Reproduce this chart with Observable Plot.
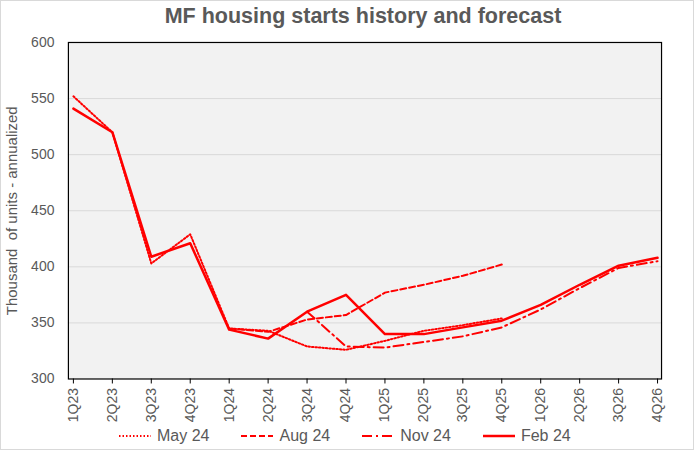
<!DOCTYPE html>
<html>
<head>
<meta charset="utf-8">
<script src="https://cdn.jsdelivr.net/npm/d3@7"></script>
<script src="https://cdn.jsdelivr.net/npm/@observablehq/plot@0.6"></script>
<style>
  html, body { margin: 0; padding: 0; background: #fff; }
  #wrap { position: relative; width: 694px; height: 450px; box-sizing: border-box; border: 1px solid #d9d9d9; font-family: "Liberation Sans", Arial, sans-serif; overflow: hidden; }
  #title { position: absolute; left: 0; top: 3px; width: 724px; text-align: center; font-weight: bold; font-size: 21.5px; color: #595959; }
  #chart { position: absolute; left: -1px; top: 29px; }
  #legend { position: absolute; left: 117px; top: 426px; display: flex; justify-content: flex-start; gap: 31px; font-size: 16px; color: #595959; }
  .item { display: flex; align-items: center; gap: 5px; }
</style>
</head>
<body>
<div id="wrap">
  <div id="title">MF housing starts history and forecast</div>
  <div id="chart"></div>
  <div id="legend"></div>
</div>
<script>
const quarters = ["1Q23","2Q23","3Q23","4Q23","1Q24","2Q24","3Q24","4Q24","1Q25","2Q25","3Q25","4Q25","1Q26","2Q26","3Q26","4Q26"];
const yTicks = [300, 350, 400, 450, 500, 550, 600];
const yLabel = "Thousand  of units - annualized";

// May 24 forecast: 1Q23 .. 4Q25
const may24 = [552, 520, 403, 429, 345, 343, 329, 326, 334, 343, 348, 354];
// Aug 24 forecast: 1Q24 .. 4Q25
const aug24Start = "1Q24";
const aug24 = [345, 342, 353, 357, 377, 384, 392, 402];
// Nov 24 forecast: 3Q24 .. 4Q26
const nov24Start = "3Q24";
const nov24 = [360, 329, 328, 333, 338, 346, 362, 381, 399, 405];
// Feb 24 forecast: 1Q23 .. 4Q26
const feb24 = [541, 520, 409, 421, 344, 336, 360, 375, 340, 340, 346, 352, 366, 384, 401, 408];

const seriesNames = ["May 24", "Aug 24", "Nov 24", "Feb 24"];
const dashes = ["1.5,2", "6,3", "10,4,2,4", null];
const widths = [2, 2, 2, 2.5];
const red = "#ff0000";

function rows(values, start) {
  const i0 = quarters.indexOf(start);
  return values.map((v, i) => ({q: quarters[i0 + i], v}));
}
const seriesData = [
  rows(may24, "1Q23"),
  rows(aug24, aug24Start),
  rows(nov24, nov24Start),
  rows(feb24, "1Q23")
];

const chart = Plot.plot({
  width: 694,
  height: 405,
  marginTop: 12,
  marginLeft: 68,
  marginRight: 32,
  marginBottom: 56,
  style: {fontFamily: "'Liberation Sans', Arial, sans-serif", fontSize: "14px", color: "#595959", background: "transparent", overflow: "visible"},
  x: {type: "point", domain: quarters, padding: 0},
  y: {domain: [300, 600]},
  marks: [
    Plot.frame({fill: "#f2f2f2"}),
    Plot.ruleY(yTicks.slice(1, -1), {stroke: "#d9d9d9", strokeWidth: 1}),
    ...seriesData.map((d, i) => Plot.line(d, {
      x: "q", y: "v", stroke: red, strokeWidth: widths[i],
      strokeDasharray: dashes[i] || undefined, strokeLinejoin: "round"
    })),
    Plot.frame({stroke: "#000", strokeWidth: 1.2}),
    Plot.axisY({ticks: yTicks, tickSize: 0, tickPadding: 14, fontSize: 14, fill: "#595959", label: null}),
    Plot.text([yLabel], {frameAnchor: "left", textAnchor: "middle", dx: -56, rotate: -90, fontSize: 15, fill: "#595959", text: d => d}),
    Plot.axisX({tickSize: 5, tickRotate: -90, tickPadding: 4, fontSize: 14, fill: "#595959", stroke: "#000", label: null})
  ]
});
document.getElementById("chart").appendChild(chart);

// legend
const leg = document.getElementById("legend");
seriesNames.forEach((name, i) => {
  const item = document.createElement("div");
  item.className = "item";
  const s = d3.create("svg").attr("width", 34).attr("height", 10);
  s.append("line").attr("x1", 1).attr("x2", 33).attr("y1", 5).attr("y2", 5)
    .attr("stroke", red).attr("stroke-width", widths[i])
    .attr("stroke-dasharray", dashes[i]);
  item.appendChild(s.node());
  const t = document.createElement("span");
  t.textContent = name;
  item.appendChild(t);
  leg.appendChild(item);
});
</script>
</body>
</html>
